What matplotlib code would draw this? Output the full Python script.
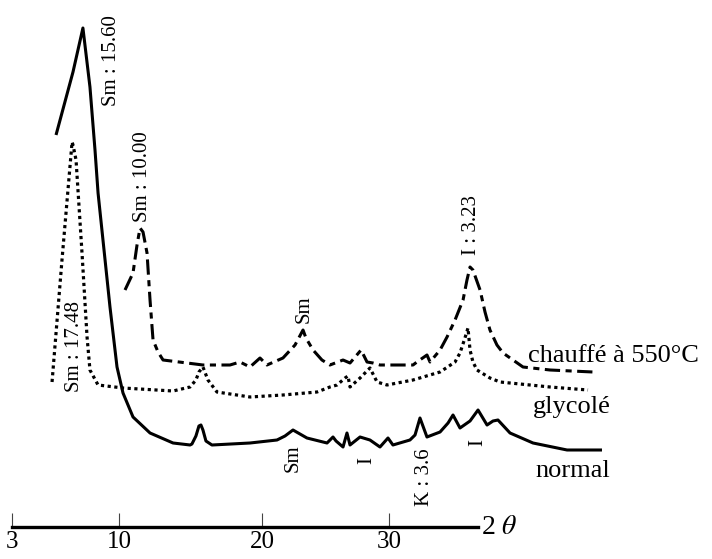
import numpy as np
import matplotlib
matplotlib.use("Agg")
import matplotlib.pyplot as plt

plt.rcParams['font.family'] = ['Liberation Serif', 'DejaVu Serif']
plt.rcParams['mathtext.fontset'] = 'stix'

# --- axis calibration of the original (non uniform) 2-theta scale ---
tick_values = [3, 10, 20, 30]
tick_labels = ["3", "10", "20", "30"]
scale_pos = [12.0, 119.0, 262.0, 389.0]

# --- diffractogram traces (2 theta, intensity) ---
normal_x = [5.88, 6.99, 7.64, 8.10, 8.43, 8.63, 9.41, 9.87, 10.28, 10.98, 12.17, 13.78,
            14.97, 15.10, 15.38, 15.59, 15.73, 15.87, 16.08, 16.50, 19.16, 21.18, 21.81,
            22.44, 22.99, 23.54, 25.12, 25.59, 25.83, 26.38, 26.69, 26.93, 27.72, 28.50,
            29.29, 29.92, 30.31, 31.65, 32.05, 32.44, 32.99, 34.02, 34.65, 35.04, 35.59,
            36.38, 37.01, 37.72, 38.19, 38.58, 39.53, 41.34, 44.02, 46.77]
normal_y = [392, 455, 499, 440, 377, 334, 220, 160, 134, 110, 94, 84,
            82, 83, 91, 101, 102, 97, 86, 82, 84, 87, 91,
            97, 93, 89, 84, 90, 86, 80, 94, 82, 90, 87,
            80, 89, 82, 87, 92, 109, 90, 95, 104, 112, 99,
            106, 117, 102, 106, 107, 94, 84, 77, 77]

glycol_x = [5.62, 6.27, 6.93, 6.99, 7.19, 7.58, 7.91, 8.10, 8.63, 10.28, 13.78, 14.97,
            15.38, 15.59, 15.87, 16.22, 16.85, 19.16, 21.65, 24.33, 25.35, 25.91, 26.54,
            26.77, 26.93, 27.72, 28.50, 29.06, 29.84, 31.89, 34.02, 35.20, 35.59, 35.98,
            36.22, 36.38, 36.61, 36.93, 37.95, 38.74, 42.68, 45.67]
glycol_y = [145, 267, 385, 382, 367, 274, 190, 157, 142, 139, 136, 140,
            147, 155, 160, 147, 135, 130, 132, 135, 140, 142, 149,
            151, 140, 149, 159, 145, 142, 147, 155, 165, 174, 189,
            199, 177, 165, 157, 149, 145, 140, 137]

heat_x = [10.42, 10.98, 11.26, 11.47, 11.68, 11.96, 12.17, 12.38, 12.73, 13.08, 14.76,
          15.87, 17.76, 18.46, 19.16, 19.86, 20.39, 21.65, 22.60, 23.23, 23.46, 24.02,
          24.72, 25.35, 26.38, 26.93, 27.80, 28.27, 28.74, 29.29, 30.63, 31.89, 32.20,
          32.99, 33.23, 34.02, 34.57, 35.20, 35.83, 36.14, 36.38, 36.61, 37.17, 37.56,
          37.95, 38.50, 38.98, 40.55, 42.68, 46.06]
heat_y = [237, 254, 282, 299, 295, 274, 227, 187, 175, 167, 164,
          162, 162, 165, 160, 169, 162, 169, 182, 197, 189, 177,
          167, 162, 167, 164, 177, 165, 164, 162, 162, 162, 165,
          172, 165, 177, 190, 207, 227, 247, 260, 257, 237, 215,
          197, 182, 174, 160, 157, 155]

annot_text = ["Sm : 15.60", "Sm : 10.00", "Sm : 17.48", "Sm", "I : 3.23",
              "Sm", "I", "K : 3.6", "I"]
annot_x = [9.54, 11.61, 7.12, 23.31, 36.46, 22.44, 28.27, 32.83, 37.01]
annot_y = [466, 350, 181, 218, 302, 69, 67, 50, 84]

series_names = ["chauffé à 550°C", "glycolé", "normal"]
name_x = [40.94, 41.34, 41.50]
name_y = [165, 114, 50]


TA = np.array(tick_values, float)
PA = np.array(scale_pos, float)


def _pw(x, a, b):
    x = np.asarray(x, float)
    y = np.interp(x, a, b)
    s0 = (b[1] - b[0]) / (a[1] - a[0])
    s1 = (b[-1] - b[-2]) / (a[-1] - a[-2])
    y = np.where(x < a[0], b[0] + (x - a[0]) * s0, y)
    y = np.where(x > a[-1], b[-1] + (x - a[-1]) * s1, y)
    return y


def fwd(x):
    return _pw(x, TA, PA)


def inv(p):
    return _pw(p, PA, TA)


fig = plt.figure(figsize=(7.12, 5.59), dpi=100)
ax = fig.add_axes([0, 0, 1, 1])
ax.set_xscale('function', functions=(fwd, inv))
ax.set_xlim(float(inv(0.0)), float(inv(712.0)))
ax.set_ylim(-32, 527)

ax.plot(normal_x, normal_y, color='black', lw=2.2, solid_joinstyle='round',
        solid_capstyle='butt')
ax.plot(glycol_x, glycol_y, color='black', lw=2.3, linestyle=(0, (1, 1.1)))
ax.plot(heat_x, heat_y, color='black', lw=2.2, linestyle=(0, (5, 1.8, 2.0, 1.8)))

for t, x, y in zip(annot_text, annot_x, annot_y):
    ax.text(x, y, t, rotation=90, ha='center', va='center', fontsize=15)

for t, x, y in zip(series_names, name_x, name_y):
    ax.text(x, y, t, ha='left', va='baseline', fontsize=19)

for s in ['left', 'right', 'top']:
    ax.spines[s].set_visible(False)
ax.spines['bottom'].set_position(('data', 0))
ax.spines['bottom'].set_linewidth(2.4)
ax.spines['bottom'].set_bounds(3, float(inv(478.0)))
ax.set_yticks([])
ax.set_xticks(tick_values)
ax.set_xticklabels(tick_labels)
ax.tick_params(axis='x', direction='in', length=10, width=0.8, color='#444444',
               labelsize=18, pad=3)
ax.xaxis.set_minor_locator(matplotlib.ticker.NullLocator())
ax.text(float(inv(481.0)), 0, r"2 $\theta$", ha='left', va='center', fontsize=20)

fig.savefig("out.png", dpi=100)
